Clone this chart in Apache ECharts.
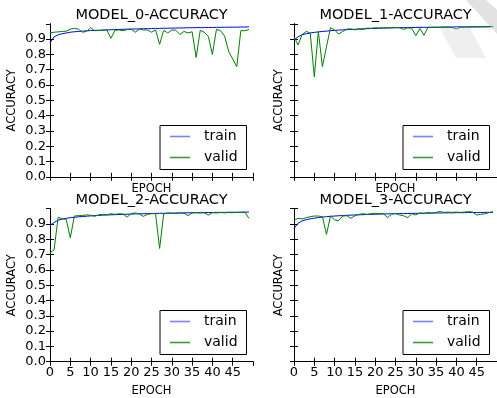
<!DOCTYPE html>
<html><head><meta charset="utf-8">
<script src="https://cdn.jsdelivr.net/npm/echarts@6/dist/echarts.min.js"></script>
<style>html,body{margin:0;padding:0;background:#fff}#c{width:497px;height:398px}</style>
</head><body><div id="c"></div>
<script>
const epochs = Array.from({length: 50}, (_, i) => i);
const titles = ['MODEL_0-ACCURACY', 'MODEL_1-ACCURACY', 'MODEL_2-ACCURACY', 'MODEL_3-ACCURACY'];
const xTicks = [0, 5, 10, 15, 20, 25, 30, 35, 40, 45];
const yTicks = ['0.0','0.1','0.2','0.3','0.4','0.5','0.6','0.7','0.8','0.9'];

const train0 = [0.875,0.915,0.928,0.935,0.94,0.945,0.948,0.95,0.952,0.954,0.956,0.957,0.958,0.959,0.96,0.961,0.962,0.963,0.964,0.965,0.966,0.966,0.967,0.968,0.968,0.969,0.97,0.97,0.971,0.971,0.972,0.972,0.973,0.973,0.974,0.974,0.975,0.975,0.975,0.976,0.976,0.977,0.977,0.977,0.978,0.978,0.978,0.979,0.979,0.98];
const valid0 = [0.94,0.945,0.947,0.95,0.952,0.965,0.97,0.965,0.945,0.95,0.975,0.955,0.956,0.958,0.96,0.905,0.957,0.96,0.955,0.962,0.965,0.945,0.965,0.96,0.96,0.945,0.96,0.866,0.957,0.94,0.96,0.958,0.93,0.95,0.94,0.948,0.78,0.957,0.945,0.917,0.80,0.964,0.955,0.92,0.82,0.77,0.72,0.955,0.955,0.962];
const train1 = [0.895,0.915,0.928,0.935,0.94,0.944,0.947,0.95,0.952,0.955,0.957,0.959,0.96,0.962,0.963,0.964,0.966,0.967,0.968,0.969,0.97,0.971,0.972,0.972,0.973,0.974,0.974,0.975,0.975,0.976,0.976,0.977,0.977,0.977,0.978,0.978,0.978,0.979,0.979,0.979,0.98,0.98,0.98,0.98,0.981,0.981,0.981,0.981,0.982,0.982];
const valid1 = [0.915,0.862,0.93,0.95,0.94,0.654,0.948,0.72,0.85,0.975,0.96,0.933,0.95,0.965,0.967,0.96,0.967,0.963,0.972,0.97,0.974,0.972,0.975,0.974,0.975,0.976,0.975,0.963,0.974,0.97,0.922,0.97,0.925,0.977,0.976,0.977,0.977,0.978,0.977,0.976,0.965,0.978,0.978,0.979,0.978,0.979,0.979,0.98,0.98,0.981];
const train2 = [0.89,0.91,0.925,0.932,0.937,0.941,0.944,0.947,0.949,0.951,0.953,0.955,0.956,0.958,0.959,0.96,0.961,0.962,0.963,0.964,0.965,0.966,0.967,0.967,0.968,0.969,0.969,0.97,0.97,0.971,0.971,0.972,0.972,0.973,0.973,0.974,0.974,0.974,0.975,0.975,0.975,0.976,0.976,0.976,0.977,0.977,0.977,0.977,0.978,0.978];
const valid2 = [0.712,0.73,0.943,0.935,0.93,0.81,0.952,0.955,0.955,0.96,0.957,0.95,0.96,0.963,0.96,0.967,0.963,0.967,0.965,0.945,0.968,0.972,0.965,0.95,0.963,0.967,0.968,0.74,0.965,0.972,0.97,0.968,0.972,0.97,0.955,0.972,0.974,0.972,0.973,0.958,0.974,0.972,0.975,0.973,0.975,0.974,0.975,0.976,0.977,0.937];
const train3 = [0.87,0.905,0.92,0.928,0.934,0.938,0.942,0.945,0.948,0.95,0.952,0.954,0.955,0.957,0.958,0.959,0.96,0.961,0.962,0.963,0.964,0.965,0.965,0.966,0.967,0.967,0.968,0.968,0.969,0.969,0.97,0.97,0.971,0.971,0.972,0.972,0.972,0.973,0.973,0.973,0.974,0.974,0.974,0.975,0.975,0.975,0.975,0.976,0.976,0.976];
const valid3 = [0.926,0.937,0.933,0.941,0.948,0.952,0.952,0.948,0.832,0.954,0.926,0.922,0.952,0.954,0.937,0.954,0.963,0.967,0.963,0.967,0.97,0.967,0.97,0.941,0.963,0.97,0.959,0.954,0.941,0.967,0.959,0.973,0.967,0.976,0.97,0.976,0.981,0.976,0.978,0.976,0.978,0.976,0.978,0.981,0.978,0.959,0.963,0.967,0.974,0.981];

const trains = [train0, train1, train2, train3];
const valids = [valid0, valid1, valid2, valid3];

const FONT = 'DejaVu Sans';
const grids = [
  {left: 50, top: 23.8, width: 203, height: 153},
  {left: 294, top: 23.8, width: 203, height: 153},
  {left: 50, top: 208.7, width: 203, height: 153},
  {left: 294, top: 208.7, width: 203, height: 153}
];

const xAxis = [], yAxis = [], series = [], title = [], legend = [];
const lineBlack = {show: true, lineStyle: {color: '#000', width: 1}};
grids.forEach((g, i) => {
  const bottomRow = i >= 2, leftCol = i % 2 === 0;
  xAxis.push({
    type: 'value', gridIndex: i, position: 'bottom', min: 0, max: 50, interval: 5,
    axisLine: lineBlack, splitLine: {show: false},
    axisTick: {show: true, inside: true, length: 4, lineStyle: {color: '#000'}},
    axisLabel: {show: bottomRow, color: '#000', fontSize: 13, fontFamily: FONT, margin: 4, showMaxLabel: false,
      formatter: v => xTicks.includes(v) ? String(v) : ''},
    name: 'EPOCH', nameLocation: 'middle', nameGap: bottomRow ? 23 : 6,
    nameTextStyle: {color: '#000', fontSize: 11.5, fontFamily: FONT, verticalAlign: 'top'}
  });
  xAxis.push({
    type: 'value', gridIndex: i, position: 'top', min: 0, max: 50, interval: 5,
    axisLine: lineBlack, splitLine: {show: false},
    axisTick: {show: true, inside: true, length: 4, lineStyle: {color: '#000'}},
    axisLabel: {show: false}
  });
  yAxis.push({
    type: 'value', gridIndex: i, position: 'left', min: 0, max: 1, interval: 0.1,
    axisLine: lineBlack, splitLine: {show: false},
    axisTick: {show: true, inside: true, length: 4, lineStyle: {color: '#000'}},
    axisLabel: {show: leftCol, color: '#000', fontSize: 13, fontFamily: FONT, margin: 4, showMaxLabel: false,
      formatter: v => yTicks[Math.round(v * 10)] || ''},
    name: 'ACCURACY', nameLocation: 'middle', nameRotate: 90, nameGap: leftCol ? 32 : 9,
    nameTextStyle: {color: '#000', fontSize: 11.5, fontFamily: FONT, verticalAlign: 'bottom'}
  });
  yAxis.push({
    type: 'value', gridIndex: i, position: 'right', min: 0, max: 1, interval: 0.1,
    axisLine: lineBlack, splitLine: {show: false},
    axisTick: {show: true, inside: true, length: 4, lineStyle: {color: '#000'}},
    axisLabel: {show: false}
  });
  title.push({
    text: titles[i], left: g.left + g.width / 2, top: bottomRow ? 193 : 7.5, textAlign: 'center', padding: 0,
    textStyle: {color: '#000', fontSize: 14.5, fontWeight: 'normal', fontFamily: FONT}
  });
  legend.push({
    left: leftCol ? 160 : 403, top: bottomRow ? 310.5 : 125.5, orient: 'vertical',
    data: [{name: 'train', itemStyle: {color: '#7f7fff'}}, {name: 'valid', itemStyle: {color: '#3c9c3c'}}],
    icon: 'rect', itemWidth: 20, itemHeight: 1.6, itemGap: 7,
    padding: [4, 9, 5, 10], borderColor: '#000', borderWidth: 1, borderRadius: 0, backgroundColor: '#fff',
    selectedMode: false,
    textStyle: {color: '#000', fontSize: 14, fontFamily: FONT, padding: [0, 0, 0, 9]}
  });
  series.push({
    name: 'train', type: 'line', xAxisIndex: 2 * i, yAxisIndex: 2 * i, showSymbol: false, symbol: 'none',
    data: epochs.map((e, k) => [e, trains[i][k]]),
    lineStyle: {color: '#0000ff', width: 1}, itemStyle: {color: '#0000ff'}, z: 2
  });
  series.push({
    name: 'valid', type: 'line', xAxisIndex: 2 * i, yAxisIndex: 2 * i, showSymbol: false, symbol: 'none',
    data: epochs.map((e, k) => [e, valids[i][k]]),
    lineStyle: {color: '#008000', width: 1}, itemStyle: {color: '#008000'}, z: 3
  });
});

const chart = echarts.init(document.getElementById('c'), null, {renderer: 'canvas'});
chart.setOption({
  animation: false,
  backgroundColor: '#fff',
  textStyle: {fontFamily: FONT},
  title, legend, grid: grids, xAxis, yAxis, series,
  graphic: [
    {type: 'polygon', shape: {points: [[466, 0], [486, 0], [497, 10], [497, 34]]}, style: {fill: 'rgba(190,190,190,0.45)'}, z: 100, silent: true},
    {type: 'polygon', shape: {points: [[440, 28], [470, 28], [486, 58], [456, 58]]}, style: {fill: 'rgba(210,210,210,0.35)'}, z: 100, silent: true}
  ]
});
</script></body></html>
